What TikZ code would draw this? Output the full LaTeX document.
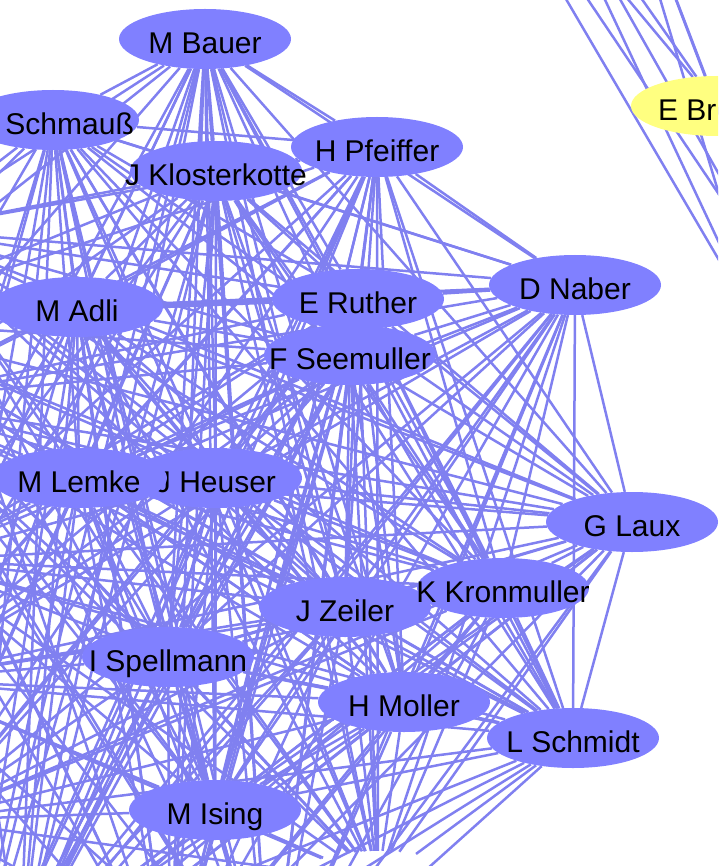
\documentclass[tikz,border=0pt]{standalone}
\usepackage{fontspec}
\setmainfont{Liberation Sans}
\usetikzlibrary{shapes.geometric}
\definecolor{nodeblue}{RGB}{128,128,255}
\definecolor{edgeblue}{RGB}{128,128,240}
\definecolor{nodeyellow}{RGB}{255,255,128}
\pgfdeclarelayer{edgelayer}
\pgfsetlayers{edgelayer,main}
\newcommand\nodetext[1]{\makebox[0pt]{#1}}
\begin{document}
\begin{tikzpicture}[x=1pt,y=-1pt,
  person/.style={ellipse, fill=nodeblue, draw=none, minimum width=172pt, minimum height=60pt,
    inner sep=0pt, font=\fontsize{30}{30}\selectfont, text height=29pt, text depth=0pt},
  seed/.style={person, fill=nodeyellow},
  hiddennode/.style={ellipse, minimum width=174pt, minimum height=62pt, inner sep=0pt},
  link/.style={draw=edgeblue, line width=2.5pt}]
\useasboundingbox (0,0) rectangle (718,866);
\begin{scope}
\clip (0,0) rectangle (718,866);
% main cluster
\node[person] (bauer) at (205,39) {\nodetext{M Bauer}};
\node[person] (schm) at (53,120) {\nodetext{\hphantom{M }Schmauß}};
\node[person] (pfeif) at (377,147) {\nodetext{H Pfeiffer}};
\node[person] (klost) at (216,171) {\nodetext{J Klosterkotte}};
\node[person] (naber) at (575,285) {\nodetext{D Naber}};
\node[person] (adli) at (77,307) {\nodetext{M Adli}};
\node[person] (ruther) at (358,299) {\nodetext{E Ruther}};
\node[person] (seem) at (350,355) {\nodetext{F Seemuller}};
\node[person] (heuser) at (216,478) {\nodetext{J Heuser}};
\node[person, minimum width=176pt] (lemke) at (79,478) {\nodetext{M Lemke}};
\node[person] (laux) at (632,522) {\nodetext{G Laux}};
\node[person] (zeiler) at (345,607) {\nodetext{J Zeiler}};
\node[person] (kron) at (503,588) {\nodetext{K Kronmuller}};
\node[person] (spell) at (168,657) {\nodetext{I Spellmann}};
\node[person] (moller) at (404,702) {\nodetext{H Moller}};
\node[person] (schmidt) at (573,738) {\nodetext{L Schmidt}};
\node[person] (ising) at (215,810) {\nodetext{M Ising}};
\node[hiddennode] (bot) at (378,882) {};
% yellow seed node
\node[seed] (ebr) at (717,106) {\makebox[0pt][l]{\hspace*{-59pt}E Br}};
\end{scope}
% off-picture neighbours
\coordinate (oB) at (-90,230);
\coordinate (oI) at (-150,320);
\coordinate (oC) at (-110,400);
\coordinate (oD) at (-80,560);
\coordinate (oE) at (-100,680);
\coordinate (oF) at (-70,820);
\coordinate (oG) at (20,960);
\coordinate (oH) at (170,990);
\coordinate (oJ) at (-40,1050);
\coordinate (oK) at (270,1010);
\coordinate (t0) at (420,-250);
\coordinate (t1) at (530,-160);
\coordinate (t2) at (600,-200);
\coordinate (t3) at (850,-40);
\coordinate (r1) at (790,300);
\coordinate (r2) at (900,60);
\coordinate (r3) at (760,330);
\def\mainlist{bauer,schm,pfeif,klost,naber,adli,ruther,seem,heuser,lemke,laux,zeiler,kron,spell,moller,schmidt,ising,bot,oB,oI,oC,oD,oE,oF,oG,oH,oJ,oK}
\def\seedlist{ebr,t0,t1,t2,t3,r1,r2,r3}
\begin{pgfonlayer}{edgelayer}
\clip (0,0) rectangle (718,866);
\foreach \a [count=\i] in \mainlist {
  \foreach \b [count=\j] in \mainlist {
    \ifnum\i<\j \draw[link] (\a) -- (\b); \fi
  }
}
\foreach \a [count=\i] in \seedlist {
  \foreach \b [count=\j] in \seedlist {
    \ifnum\i<\j \draw[link] (\a) -- (\b); \fi
  }
}
\end{pgfonlayer}
\end{tikzpicture}
\end{document}
